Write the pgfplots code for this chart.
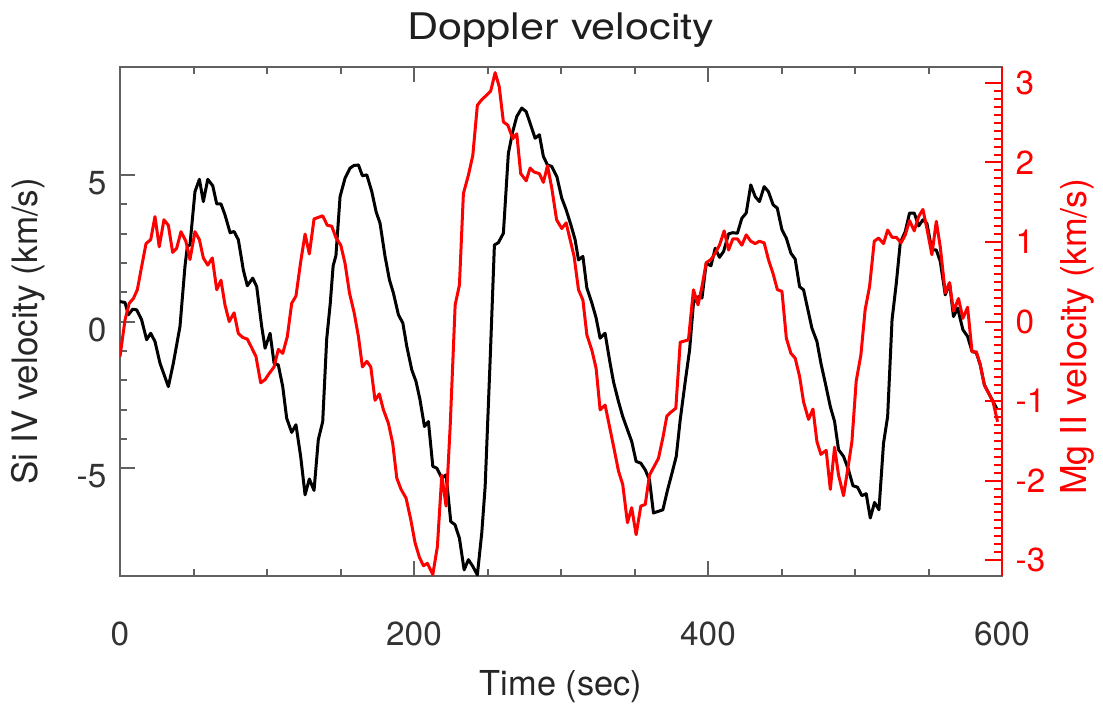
\documentclass[border=0pt]{standalone}
\usepackage{fontspec}
\setmainfont{TeX Gyre Heros}
\usepackage{pgfplots}
\pgfplotsset{compat=1.18}

\definecolor{axgray}{gray}{0.38}
\definecolor{idlred}{rgb}{1,0,0}

% Si IV Doppler velocity (km/s)
\pgfplotstableread{
t v
0 0.68
3.4 0.65
5.7 0.23
8.6 0.42
11.3 0.40
14.7 0.06
18.1 -0.62
20.9 -0.40
23.8 -0.68
27.2 -1.42
32.9 -2.22
36.3 -1.42
40.8 -0.17
44.2 1.88
45.8 2.56
47.6 2.61
51.0 4.43
54.0 4.85
56.7 4.09
59.7 4.85
63.1 4.63
65.8 4.01
68.7 4.01
71.4 3.64
74.9 3.03
77.6 3.07
80.5 2.79
83.9 1.76
86.6 1.22
90.3 1.48
93.0 1.19
96.4 -0.17
98.7 -0.91
102.1 -0.40
104.8 -1.42
107.7 -1.48
110.7 -2.22
113.4 -3.30
116.8 -3.78
119.7 -3.52
122.9 -4.60
125.9 -5.91
128.8 -5.37
132.0 -5.76
134.9 -4.03
137.9 -3.41
140.6 -0.60
143.0 0.60
145.0 1.90
146.9 2.25
149.7 4.26
153.1 4.89
156.5 5.23
159.0 5.32
162.2 5.34
164.9 4.97
167.9 5.00
171.3 4.43
174.2 3.75
176.9 3.35
180.3 2.22
183.3 1.42
186.0 0.97
189.4 0.23
192.4 -0.05
195.1 -0.85
198.5 -1.65
201.4 -2.05
204.1 -2.67
207.1 -3.58
209.8 -3.41
212.8 -4.94
215.5 -5.00
218.9 -5.34
221.8 -5.23
225.0 -6.82
227.9 -6.93
230.9 -7.39
234.1 -8.47
237.0 -8.12
240.0 -8.35
243.1 -8.64
246.1 -7.21
248.4 -5.63
251.8 -1.31
254.7 2.61
257.4 2.69
260.8 3.01
264.2 5.74
267.2 6.48
269.9 6.99
273.3 7.28
276.3 7.16
279.0 6.76
282.4 6.25
285.3 6.37
288.0 5.63
290.8 5.34
293.7 5.29
297.2 4.94
300.5 4.21
303.5 3.81
306.7 3.30
309.6 2.79
311.9 2.10
314.9 2.22
317.6 1.14
321.0 0.63
323.9 0.12
326.6 -0.57
330.0 -0.40
333.0 -1.31
335.7 -2.05
339.1 -2.73
342.0 -3.24
345.2 -3.69
348.1 -4.09
351.1 -4.77
354.3 -4.83
357.3 -5.06
360.2 -5.40
362.9 -6.53
369.3 -6.42
372.5 -5.74
375.5 -5.17
378.4 -4.60
381.1 -3.35
384.5 -2.05
387.5 -0.96
390.1 0.63
393.2 0.85
395.9 0.80
398.8 1.99
402.0 1.90
404.9 2.50
407.8 2.19
410.6 2.39
414.0 2.99
416.9 3.03
420.0 3.01
423.0 3.52
426.0 3.70
429.1 4.66
432.1 4.26
435.0 4.09
438.2 4.60
441.1 4.43
444.3 3.98
447.1 3.87
450.3 3.13
453.3 2.84
456.4 2.33
459.3 2.13
462.3 1.19
465.0 1.08
467.7 0.46
470.7 -0.23
474.1 -0.68
476.8 -1.42
479.8 -2.10
483.2 -2.90
486.1 -3.41
488.8 -4.37
492.2 -4.60
495.6 -5.06
498.6 -5.60
501.7 -5.65
504.7 -5.94
507.6 -5.87
510.4 -6.70
513.3 -6.17
516.3 -6.42
519.4 -4.15
522.2 -3.24
525.2 0.06
528.1 1.31
530.8 2.69
534.2 3.07
537.1 3.70
540.3 3.70
543.3 3.26
546.2 3.47
548.9 3.35
552.3 2.44
555.3 2.44
558.0 2.05
561.4 0.91
564.3 1.31
567.0 0.17
569.8 0.46
573.4 -0.28
576.6 -0.51
579.6 -1.02
582.5 -1.06
585.2 -1.48
588.0 -2.16
590.9 -2.44
593.9 -2.73
596.6 -2.99
}\siiv

% Mg II Doppler velocity (km/s)
\pgfplotstableread{
t v
0 -0.44
3.4 0.02
6.3 0.23
9.1 0.29
11.8 0.40
14.7 0.69
17.7 0.98
20.9 1.03
23.8 1.32
26.7 0.94
29.9 1.28
32.9 1.21
35.8 0.87
38.5 0.92
41.5 1.13
44.8 1.01
47.6 0.78
51.0 1.13
54.0 1.03
56.7 0.80
59.7 0.71
62.8 0.80
65.8 0.40
68.7 0.52
71.4 0.21
74.3 0.00
77.6 0.11
80.5 -0.15
83.5 -0.20
86.6 -0.22
89.6 -0.33
92.5 -0.44
95.7 -0.77
98.7 -0.73
101.6 -0.65
104.8 -0.57
107.7 -0.35
110.7 -0.40
113.8 -0.19
116.8 0.23
119.7 0.32
122.9 0.75
125.9 1.10
128.8 0.85
132.0 1.29
137.9 1.33
141.0 1.21
144.0 1.20
147.0 1.05
150.2 0.96
153.1 0.73
156.1 0.36
159.3 0.11
162.2 -0.19
164.9 -0.57
167.9 -0.50
170.6 -0.57
173.5 -0.99
176.4 -0.91
179.2 -1.11
182.6 -1.28
185.5 -1.53
188.3 -1.97
191.2 -2.11
194.6 -2.22
197.8 -2.49
200.7 -2.78
203.6 -2.96
206.4 -3.07
209.1 -3.04
212.8 -3.18
215.9 -2.83
218.9 -1.93
221.8 -2.32
224.6 -1.32
228.0 0.21
230.9 0.46
233.6 1.61
237.0 1.84
240.0 2.09
243.1 2.72
246.1 2.79
249.0 2.84
252.2 2.90
255.2 3.13
258.0 2.95
260.8 2.51
263.8 2.47
267.2 2.30
269.9 2.36
272.6 1.86
276.3 1.77
279.0 1.93
281.7 1.88
285.3 1.86
288.0 1.75
290.8 1.96
293.7 1.68
297.0 1.28
300.5 1.17
303.5 1.24
306.2 1.03
308.9 0.82
311.9 0.40
314.9 0.27
317.6 -0.17
321.0 -0.36
323.9 -0.59
326.6 -1.11
330.0 -1.05
333.0 -1.32
336.2 -1.61
339.1 -1.88
342.0 -2.05
345.2 -2.53
348.1 -2.34
351.1 -2.68
354.3 -2.32
357.3 -2.30
360.2 -1.93
363.4 -1.82
366.3 -1.72
369.3 -1.46
372.0 -1.19
374.7 -1.14
378.1 -1.09
381.1 -0.26
386.7 -0.23
390.1 0.40
393.2 0.21
395.9 0.44
398.8 0.74
402.0 0.78
404.9 0.86
407.8 0.96
411.0 1.14
414.0 0.90
416.9 1.04
420.0 1.04
423.0 0.96
426.0 1.09
429.1 1.01
432.1 0.98
435.0 1.01
438.2 0.99
441.1 0.78
444.3 0.60
447.2 0.40
450.3 0.38
453.3 -0.21
456.4 -0.40
459.3 -0.46
462.3 -0.69
465.0 -1.01
468.4 -1.23
471.4 -1.10
474.1 -1.51
476.8 -1.67
480.4 -1.62
483.2 -2.11
486.1 -1.58
488.8 -1.93
492.2 -2.19
495.2 -1.84
497.9 -1.51
500.8 -0.75
504.0 -0.42
506.9 0.15
509.9 0.44
513.1 1.01
516.0 1.05
519.4 0.98
522.2 1.15
525.2 1.06
528.1 1.06
531.3 0.99
534.2 1.09
537.1 1.27
540.3 1.14
543.3 1.32
546.2 1.41
548.9 1.17
552.3 0.84
555.3 1.26
558.0 0.94
561.4 0.36
564.3 0.49
567.0 0.13
570.4 0.29
573.4 0.04
576.6 0.18
579.6 -0.38
582.5 -0.38
585.2 -0.54
588.0 -0.80
590.9 -0.90
593.9 -1.01
597.0 -1.26
}\mgii

\begin{document}
\begin{tikzpicture}
% left axis: Si IV, black
\begin{axis}[
    width=264.6pt, height=152.7pt, scale only axis,
    xmin=0, xmax=600, ymin=-8.68, ymax=8.68,
    xtick={0,200,400,600}, xticklabels={0,200,400,600},
    minor x tick num=3,
    ytick={-5,0,5}, yticklabels={-5,0,5},
    minor y tick num=4,
    xtick pos=both, ytick pos=left,
    tick align=inside,
    major tick length=4.5pt, minor tick length=2.2pt,
    axis line style={axgray, line width=0.6pt},
    tick style={axgray, line width=0.6pt},
    xticklabel style={font=\fontsize{10}{12}\selectfont, text=black!80,
        inner sep=0pt, anchor=north, yshift=-13.4pt},
    yticklabel style={font=\fontsize{10}{12}\selectfont, text=black!80,
        inner sep=0pt, anchor=east, xshift=-3.9pt, yshift=-2.4pt},
]
\addplot[black, line width=0.9pt, line join=round] table[x=t, y=v] {\siiv};
\coordinate (bl) at (rel axis cs:0,0);
\coordinate (tr) at (rel axis cs:1,1);
\coordinate (ml) at (rel axis cs:0,0.5);
\coordinate (mr) at (rel axis cs:1,0.5);
\coordinate (bm) at (rel axis cs:0.5,0);
\coordinate (tm) at (rel axis cs:0.5,1);
\end{axis}

% right axis: Mg II, red
\begin{axis}[
    width=264.6pt, height=152.7pt, scale only axis,
    xmin=0, xmax=600, ymin=-3.2, ymax=3.2,
    axis x line=none, axis y line*=right,
    ytick={-3,-2,-1,0,1,2,3}, yticklabels={-3,-2,-1,0,1,2,3},
    minor y tick num=9,
    tick align=inside,
    major tick length=5pt, minor tick length=2.3pt,
    y axis line style={-, idlred, line width=0.6pt},
    ytick style={idlred, line width=0.6pt},
    yticklabel style={font=\fontsize{10}{12}\selectfont, text=idlred,
        inner sep=0pt, anchor=west, xshift=3.9pt},
]
\addplot[idlred, line width=0.9pt, line join=round] table[x=t, y=v] {\mgii};
\end{axis}

\node[anchor=base, inner sep=0pt, text=black!88,
      font=\fontsize{11}{13}\selectfont\addfontfeature{FakeStretch=1.18}]
      at ([yshift=8.4pt]tm) {Doppler velocity};
\node[anchor=base, inner sep=0pt, text=black!85, font=\fontsize{10.3}{12}\selectfont]
      at ([yshift=-35.7pt]bm) {Time (sec)};
\node[anchor=base, rotate=90, inner sep=0pt, text=black!85, font=\fontsize{10.5}{12}\selectfont]
      at ([xshift=-24.8pt, yshift=-2.9pt]ml) {Si IV velocity (km/s)};
\node[anchor=base, rotate=90, inner sep=0pt, text=idlred, font=\fontsize{10.7}{12}\selectfont]
      at ([xshift=25.4pt, yshift=-4.5pt]mr) {Mg II velocity (km/s)};

\pgfresetboundingbox
\path[use as bounding box] ([xshift=-36pt, yshift=-39.9pt]bl) rectangle ([xshift=30.3pt, yshift=20.1pt]tr);
\end{tikzpicture}
\end{document}
